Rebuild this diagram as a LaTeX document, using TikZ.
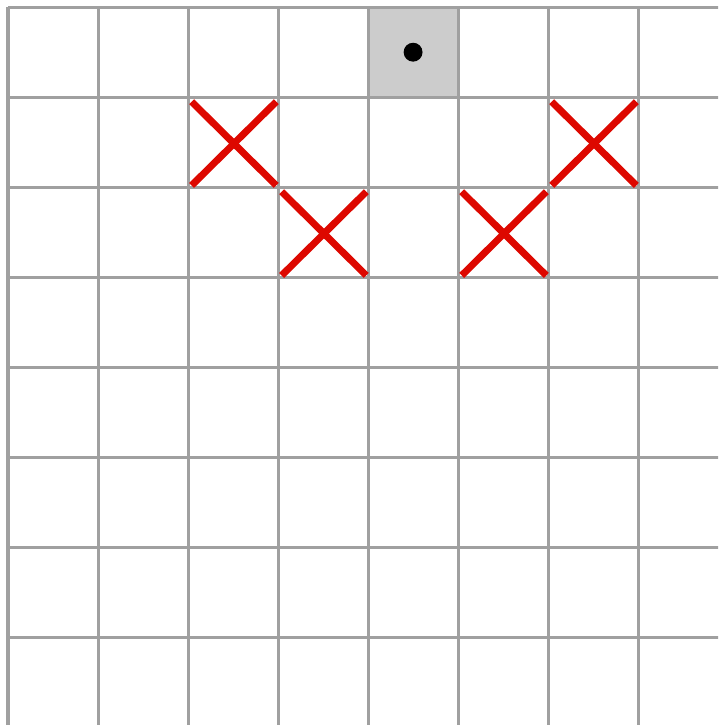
\documentclass[tikz,border=0pt]{standalone}
\usepackage{tikz}
\usepackage{xcolor}
\definecolor{gridgray}{RGB}{160,160,160}
\definecolor{cellgray}{RGB}{204,204,204}
\definecolor{crossred}{RGB}{221,8,0}

\begin{document}
\begin{tikzpicture}[
    gridline/.style={draw=gridgray, line width=0.95pt},
    crossline/.style={draw=crossred, line width=2.2pt}
  ]
  \useasboundingbox (-0.0889,0.026) rectangle (7.889,8.08);
  \clip (-0.0889,0.026) rectangle (7.889,8.08);
  % start cell
  \fill[cellgray] (4,7) rectangle (5,8);
  % board
  \draw[gridline] (0,-1) grid (9,8);
  % piece
  \fill[black] (4.5,7.5) circle (0.105);
  % blocked cells
  \foreach \cx/\cy in {2/6, 3/5, 5/5, 6/6} {
    \draw[crossline] (\cx+0.04,\cy+0.95) -- (\cx+0.98,\cy+0.02);
    \draw[crossline] (\cx+0.04,\cy+0.02) -- (\cx+0.98,\cy+0.95);
  }
\end{tikzpicture}
\end{document}
